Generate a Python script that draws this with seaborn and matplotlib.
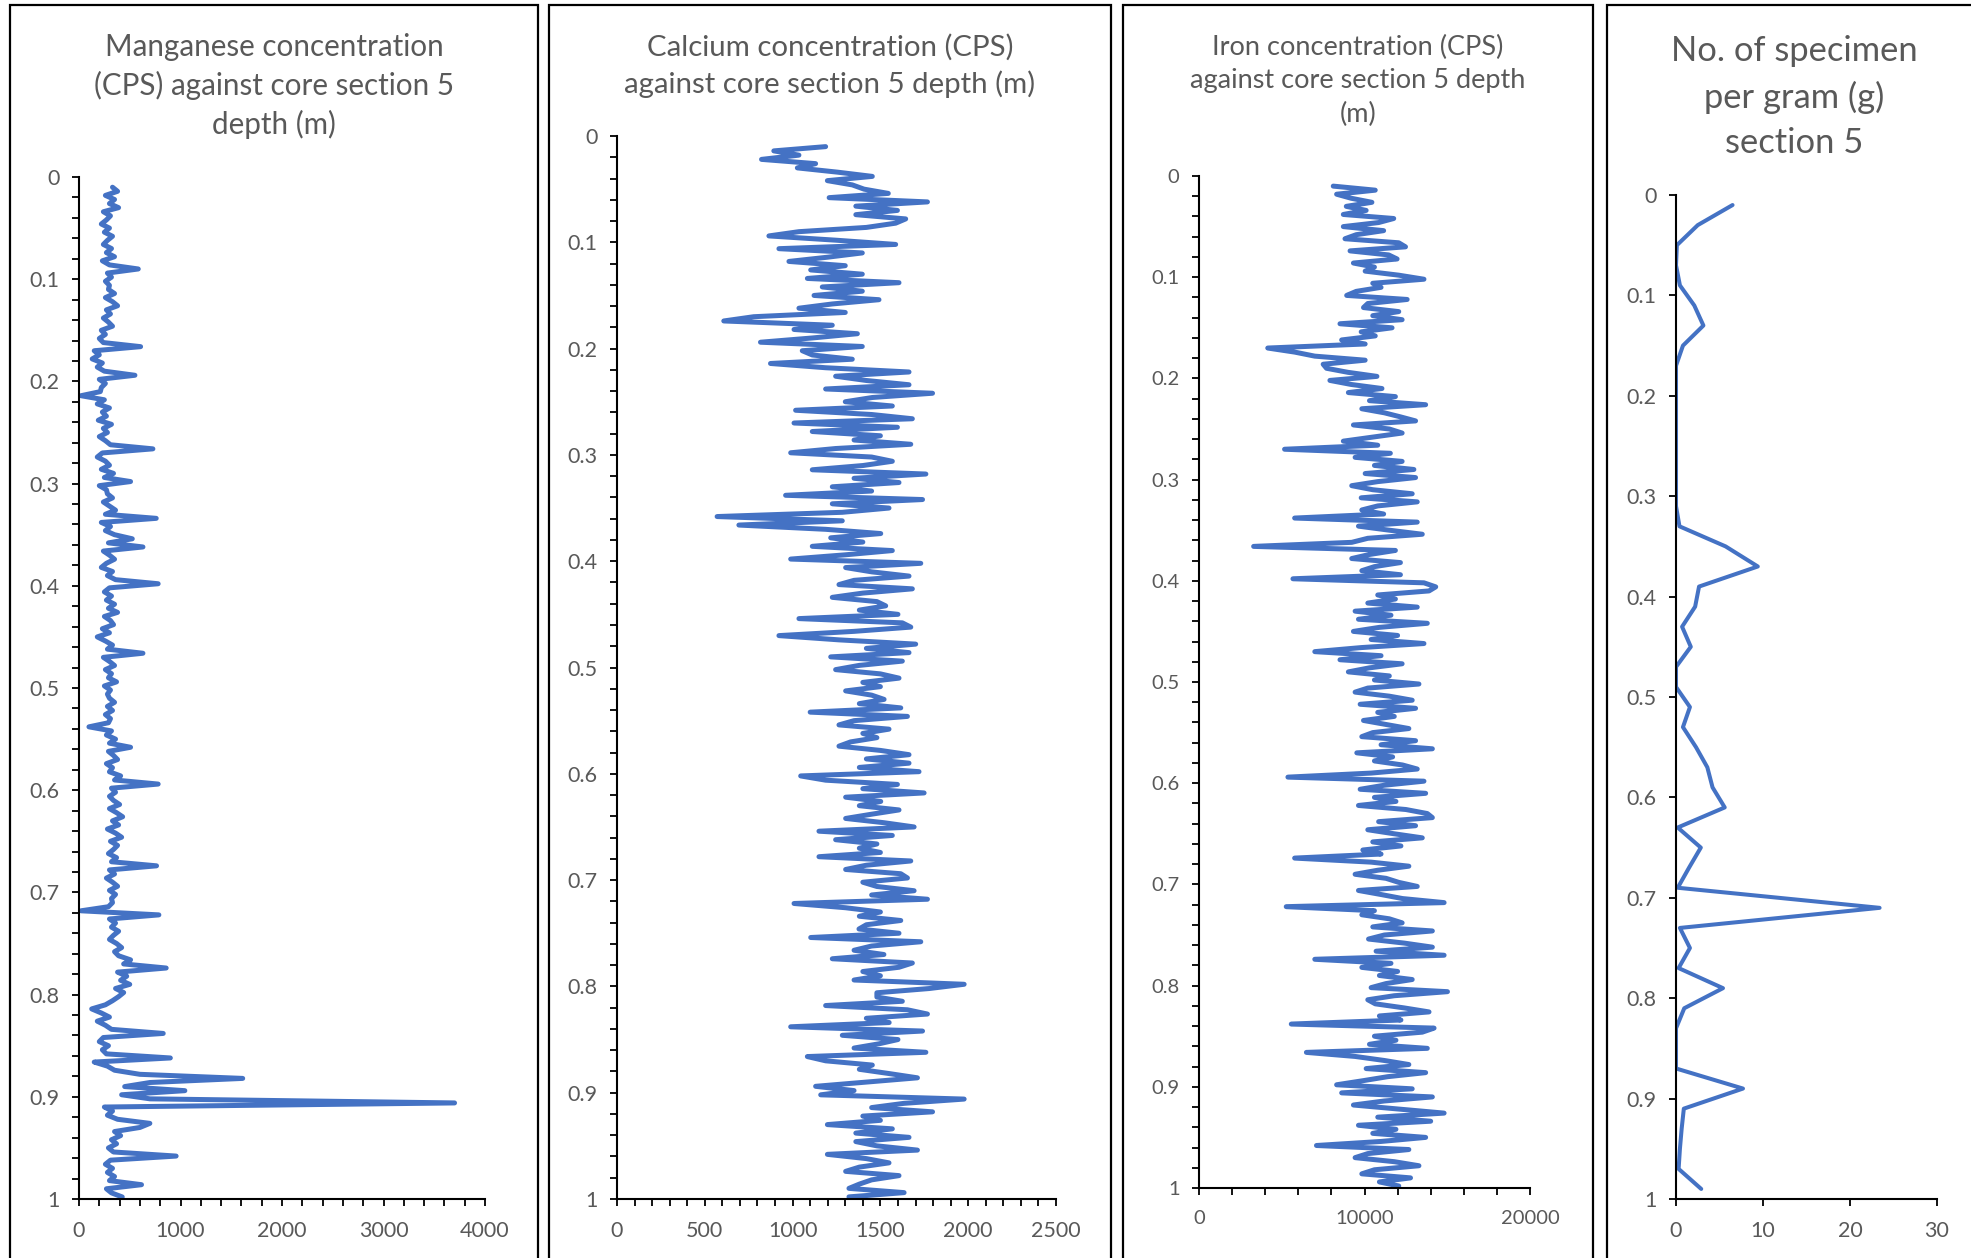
import numpy as np
import pandas as pd
import matplotlib
matplotlib.use("Agg")
import matplotlib.pyplot as plt
from matplotlib.patches import Rectangle
from matplotlib.ticker import MultipleLocator
import seaborn as sns

# ---------------- data ----------------
# XRF scan: sample depths 0.010 .. 0.998 m every 0.004 m (rows of 0.1 m)
MN_CPS = [
    330, 380, 260, 350, 300, 390, 240, 310, 270, 220, 300, 250, 330, 280, 240, 320, 270, 350, 230, 300, 584, 280, 320, 260, 300,
    290, 350, 260, 330, 380, 270, 310, 240, 290, 330, 220, 260, 200, 240, 607, 150, 200, 130, 230, 180, 250, 551, 200, 260, 220,
    210, 20, 250, 180, 300, 230, 270, 190, 320, 240, 280, 200, 260, 310, 728, 230, 180, 260, 300, 220, 340, 250, 508, 200, 270,
    280, 330, 240, 300, 360, 260, 761, 220, 310, 260, 350, 525, 290, 630, 240, 300, 350, 270, 220, 330, 280, 360, 780, 300, 250,
    320, 270, 350, 290, 380, 250, 310, 340, 230, 300, 180, 260, 330, 280, 630, 240, 300, 350, 260, 320, 290, 370, 250, 310, 280,
    300, 350, 280, 330, 260, 310, 290, 98, 320, 270, 360, 300, 508, 290, 340, 380, 270, 330, 300, 410, 350, 780, 320, 360, 300,
    340, 400, 300, 370, 430, 330, 390, 280, 360, 420, 310, 380, 340, 290, 370, 320, 764, 300, 350, 270, 330, 380, 300, 360, 320,
    330, 290, 20, 787, 300, 360, 320, 390, 340, 300, 370, 420, 350, 390, 508, 440, 859, 380, 470, 410, 500, 360, 440, 390, 330,
    260, 125, 220, 300, 180, 260, 320, 830, 240, 200, 290, 230, 270, 900, 150, 280, 350, 600, 1613, 700, 450, 1043, 420, 700, 3700,
    250, 330, 280, 380, 698, 600, 350, 410, 320, 370, 290, 340, 957, 310, 260, 330, 280, 350, 300, 616, 270, 320, 426,
]
CA_CPS = [
    1188, 893, 1036, 823, 1131, 1027, 1255, 1454, 1198, 1340, 1407, 1545, 1208, 1768, 1360, 1597, 1360, 1644, 1587, 1420, 1036, 865, 1245, 1587, 922,
    1397, 1200, 979, 1300, 1103, 1397, 1084, 1606, 1169, 1397, 1122, 1492, 1226, 1036, 1300, 779, 608, 1226, 1008, 1369, 1112, 817, 1397, 1055, 1112,
    1340, 874, 1188, 1663, 1245, 1420, 1663, 1188, 1797, 1454, 1300, 1568, 1017, 1450, 1682, 1008, 1597, 1112, 1500, 1350, 1673, 1245, 989, 1450, 1568,
    1400, 1112, 1759, 1350, 1606, 1226, 1450, 960, 1740, 1226, 1549, 1283, 570, 1283, 694, 1188, 1502, 1217, 1400, 1112, 1568, 1300, 989, 1730, 1302,
    1450, 1663, 1350, 1264, 1682, 1400, 1226, 1480, 1530, 1380, 1600, 1036, 1625, 1673, 1350, 922, 1264, 1701, 1420, 1663, 1217, 1625, 1380, 1245, 1500,
    1606, 1400, 1500, 1302, 1450, 1521, 1380, 1616, 1100, 1654, 1350, 1264, 1549, 1400, 1480, 1330, 1264, 1500, 1663, 1420, 1663, 1380, 1720, 1046, 1188,
    1597, 1400, 1749, 1302, 1502, 1380, 1606, 1450, 1302, 1520, 1692, 1150, 1568, 1245, 1480, 1380, 1500, 1150, 1673, 1420, 1302, 1616, 1654, 1400, 1480,
    1692, 1450, 1768, 1008, 1302, 1500, 1380, 1616, 1420, 1378, 1606, 1103, 1730, 1450, 1350, 1520, 1226, 1682, 1606, 1400, 1500, 1350, 1977, 1778, 1480,
    1480, 1625, 1188, 1654, 1768, 1420, 1550, 989, 1740, 1283, 1600, 1492, 1350, 1759, 1084, 1188, 1454, 1380, 1550, 1711, 1420, 1131, 1350, 1160, 1977,
    1635, 1450, 1797, 1400, 1500, 1198, 1568, 1360, 1663, 1360, 1480, 1711, 1198, 1420, 1549, 1380, 1302, 1606, 1450, 1380, 1321, 1635, 1321,
]
FE_CPS = [
    8112, 10650, 8315, 9200, 10447, 8900, 10100, 8720, 11766, 10853, 8720, 11157, 9500, 8822, 12070, 12477, 9127, 11462, 11969, 9330, 10600, 10040, 12070, 13593, 10500,
    11000, 9500, 8924, 12578, 10200, 9939, 12070, 10500, 12273, 8518, 11665, 9800, 10650, 8619, 10040, 4154, 5778, 6996, 10040, 7503, 7706, 9000, 10751, 7909, 9200,
    11056, 9025, 11868, 10300, 13695, 9838, 11200, 12172, 13086, 9330, 11500, 12274, 10500, 8721, 10800, 5169, 11563, 9432, 12274, 10600, 12984, 10040, 13086, 10800, 9229,
    10500, 12883, 9800, 13187, 10800, 9838, 11157, 5778, 13187, 9635, 11500, 13492, 10200, 9229, 3300, 11868, 10300, 9229, 12172, 10600, 9838, 12172, 5676, 13593, 14304,
    13898, 10800, 11868, 10200, 13187, 9432, 11600, 9635, 13796, 10900, 9330, 12000, 10400, 13593, 9800, 6996, 11000, 8518, 12274, 10300, 9025, 11500, 10600, 13289, 10200,
    9432, 11500, 12883, 9737, 13086, 10800, 11800, 9939, 11300, 12680, 10500, 9838, 13086, 11000, 14101, 9534, 11700, 10600, 12300, 13187, 10400, 5372, 13593, 11200, 9737,
    13695, 10600, 11900, 9635, 12500, 13796, 14101, 10853, 13086, 10200, 11800, 13492, 10500, 12200, 9900, 11000, 5778, 10400, 12680, 10800, 9432, 11300, 12070, 13187, 9635,
    11000, 12300, 14811, 5270, 10600, 9838, 11500, 12274, 10500, 14101, 11200, 10244, 12400, 14101, 10700, 14811, 6996, 11600, 9838, 12000, 10900, 12883, 11300, 10400, 15014,
    11800, 10200, 10650, 12375, 13898, 10900, 12200, 5575, 14203, 13492, 10600, 11900, 10300, 13796, 6488, 9432, 11200, 12680, 10100, 13695, 11400, 9900, 8315, 12883, 8620,
    14101, 11200, 9330, 12100, 14811, 10800, 14000, 9635, 11900, 10500, 13695, 11000, 7097, 12680, 10200, 9432, 11800, 13289, 10600, 9838, 12781, 10900, 12070,
]
XRF_DEPTH_M = np.round(np.linspace(0.010, 0.998, len(MN_CPS)), 3)

# micropalaeontology samples: every 0.02 m
SPEC_DEPTH_M = [0.01, 0.03, 0.05, 0.07, 0.09, 0.11, 0.13, 0.15, 0.17, 0.19,
                0.21, 0.23, 0.25, 0.27, 0.29, 0.31, 0.33, 0.35, 0.37, 0.39,
                0.41, 0.43, 0.45, 0.47, 0.49, 0.51, 0.53, 0.55, 0.57, 0.59,
                0.61, 0.63, 0.65, 0.67, 0.69, 0.71, 0.73, 0.75, 0.77, 0.79,
                0.81, 0.83, 0.85, 0.87, 0.89, 0.91, 0.93, 0.95, 0.97, 0.99]
SPEC_PER_G = [6.5, 2.5, 0.1, 0.0, 0.45, 2.1, 3.15, 0.8, 0.0, 0.0,
              0.0, 0.0, 0.0, 0.0, 0.0, 0.0, 0.4, 5.7, 9.4, 2.65,
              2.2, 0.7, 1.7, 0.0, 0.0, 1.6, 0.8, 2.3, 3.6, 4.2,
              5.6, 0.2, 2.85, 1.5, 0.2, 23.4, 0.45, 1.6, 0.3, 5.4,
              0.95, 0.0, 0.0, 0.0, 7.7, 0.9, 0.65, 0.45, 0.3, 2.9]

TITLES = [
    "Manganese concentration\n(CPS) against core section 5\ndepth (m)",
    "Calcium concentration (CPS)\nagainst core section 5 depth (m)",
    "Iron concentration (CPS)\nagainst core section 5 depth\n(m)",
    "No. of specimen\nper gram (g)\nsection 5",
]
DEPTH_TICKS = [0, 0.1, 0.2, 0.3, 0.4, 0.5, 0.6, 0.7, 0.8, 0.9, 1]
DEPTH_LABELS = ["0", "0.1", "0.2", "0.3", "0.4", "0.5", "0.6", "0.7", "0.8", "0.9", "1"]

# ---------------- style ----------------
sns.set_style("white")
plt.rcParams["font.family"] = ["Lato", "DejaVu Sans"]
BLUE = "#4472C4"
GREY = "#595959"

W, H = 1971, 1258
fig = plt.figure(figsize=(W / 100, H / 100), dpi=100)
fig.patch.set_facecolor("white")


def px_axes(x0, x1, y0, y1):
    return fig.add_axes([x0 / W, 1 - y1 / H, (x1 - x0) / W, (y1 - y0) / H])


# panel borders (each chart sits in its own frame)
for (bx0, bx1) in [(10, 538), (549, 1111), (1123, 1593), (1607, 2100)]:
    fig.patches.append(Rectangle((bx0 / W, -0.05), (bx1 - bx0) / W, 1.05 - 5 / H,
                                 transform=fig.transFigure, fill=False, edgecolor="black",
                                 linewidth=1.6, clip_on=False))

panels = [
    dict(box=(79, 485, 177, 1199), x=MN_CPS, y=XRF_DEPTH_M, xmax=4000, xmaj=1000, xmin=200,
         ymin=0.02, title_xy=(274, 86), tsize=21.3, lsize=15.5, lw=3.6, ls=1.43),
    dict(box=(617, 1056, 136, 1199), x=CA_CPS, y=XRF_DEPTH_M, xmax=2500, xmaj=500, xmin=100,
         ymin=0.02, title_xy=(830, 66), tsize=21.2, lsize=15.5, lw=3.6, ls=1.43),
    dict(box=(1199, 1530, 176, 1188), x=FE_CPS, y=XRF_DEPTH_M, xmax=20000, xmaj=10000, xmin=2000,
         ymin=0.02, title_xy=(1358, 81), tsize=19.5, lsize=14.5, lw=3.6, ls=1.43),
    dict(box=(1676, 1937, 195, 1199), x=SPEC_PER_G, y=SPEC_DEPTH_M, xmax=30, xmaj=10, xmin=None,
         ymin=None, title_xy=(1794, 97), tsize=24.8, lsize=15.5, lw=2.9, ls=1.5),
]

for p, title in zip(panels, TITLES):
    ax = px_axes(*p["box"])
    df = pd.DataFrame({"value": p["x"], "depth": p["y"]})
    sns.lineplot(data=df, x="value", y="depth", sort=False, estimator=None,
                 color=BLUE, linewidth=p["lw"], ax=ax, solid_joinstyle="round",
                 solid_capstyle="round")
    ax.set_xlim(0, p["xmax"])
    ax.set_ylim(1, 0)
    ax.set_xlabel("")
    ax.set_ylabel("")
    ax.xaxis.set_major_locator(MultipleLocator(p["xmaj"]))
    if p["xmin"]:
        ax.xaxis.set_minor_locator(MultipleLocator(p["xmin"]))
    ax.set_yticks(DEPTH_TICKS)
    ax.set_yticklabels(DEPTH_LABELS)
    if p["ymin"]:
        ax.yaxis.set_minor_locator(MultipleLocator(p["ymin"]))
    for s in ["top", "right"]:
        ax.spines[s].set_visible(False)
    for s in ["left", "bottom"]:
        ax.spines[s].set_color("black")
        ax.spines[s].set_linewidth(1.5)
    ax.tick_params(which="both", direction="out", length=5, width=1.3, color="black",
                   labelcolor=GREY, labelsize=p["lsize"], left=True, bottom=True)
    ax.tick_params(axis="x", which="major", pad=11)
    ax.tick_params(axis="y", which="major", pad=9)
    ax.grid(False)
    ax.set_facecolor("none")
    tx, ty = p["title_xy"]
    fig.text(tx / W, 1 - ty / H, title, ha="center", va="center", multialignment="center",
             fontsize=p["tsize"], color=GREY, linespacing=p["ls"])

fig.savefig("out.png", dpi=100, facecolor="white")
